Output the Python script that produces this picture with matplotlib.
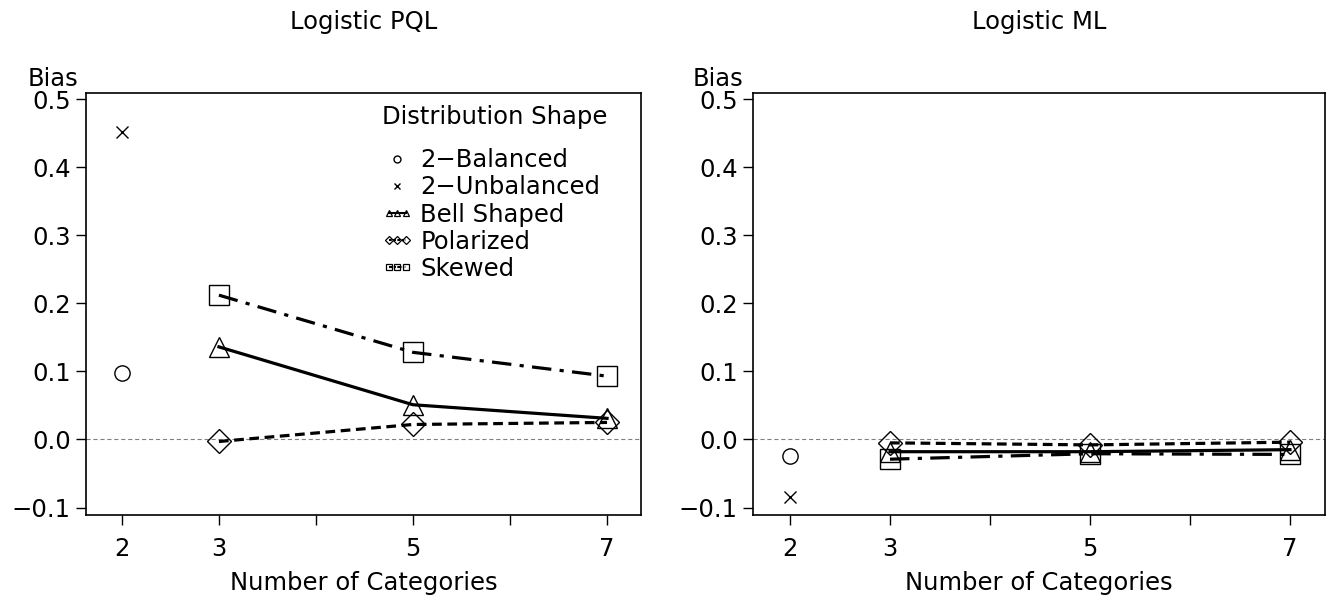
import matplotlib
matplotlib.use("Agg")
import matplotlib.pyplot as plt
from matplotlib.lines import Line2D
from matplotlib.legend_handler import HandlerLine2D

plt.rcParams['font.family'] = ['DejaVu Sans']
plt.rcParams['lines.scale_dashes'] = False

# ---- data ----
categories = [3, 5, 7]
two_cat_x = 2

pql_balanced = 0.097
pql_unbalanced = 0.452
pql_bell = [0.136, 0.051, 0.031]
pql_polarized = [-0.003, 0.022, 0.025]
pql_skewed = [0.212, 0.128, 0.093]

ml_balanced = -0.024
ml_unbalanced = -0.084
ml_bell = [-0.018, -0.018, -0.015]
ml_polarized = [-0.005, -0.008, -0.004]
ml_skewed = [-0.029, -0.021, -0.022]

titles = ["Logistic PQL", "Logistic ML"]
xticks = [2, 3, 4, 5, 6, 7]
xticklabels = ["2", "3", "", "5", "", "7"]
yticks = [-0.1, 0.0, 0.1, 0.2, 0.3, 0.4, 0.5]

panels = [
    (pql_balanced, pql_unbalanced, pql_bell, pql_polarized, pql_skewed),
    (ml_balanced, ml_unbalanced, ml_bell, ml_polarized, ml_skewed),
]

fig = plt.figure(figsize=(13.31, 6.07), dpi=100)
axes_pos = [
    [86 / 1331, 1 - 515 / 607, (641 - 86) / 1331, (515 - 93) / 607],
    [753 / 1331, 1 - 515 / 607, (1325 - 753) / 1331, (515 - 93) / 607],
]

FS = 17.5
lw = 2.3
for i, (pos, data, title) in enumerate(zip(axes_pos, panels, titles)):
    bal, unb, bell, pol, skw = data
    ax = fig.add_axes(pos)
    ax.axhline(0, color='gray', lw=0.8, ls=(0, (3, 2)), zorder=1)
    ax.plot([two_cat_x], [bal], ls='none', marker='o', ms=11, mfc='none',
            mec='black', mew=1.0)
    ax.plot([two_cat_x], [unb], ls='none', marker='x', ms=9, mec='black', mew=1.0)
    ax.plot(categories, bell, color='black', lw=lw, ls='-', marker='^', ms=14,
            mfc='none', mec='black', mew=1.0)
    ax.plot(categories, pol, color='black', lw=lw, ls=(0, (7, 4)), marker='D',
            ms=12, mfc='none', mec='black', mew=1.0)
    ax.plot(categories, skw, color='black', lw=lw, ls=(0, (14, 6, 3, 6)),
            marker='s', ms=14, mfc='none', mec='black', mew=1.0)
    ax.set_xlim(1.63, 7.35)
    ax.set_ylim(-0.111, 0.509)
    ax.set_xticks(xticks)
    ax.set_xticklabels(xticklabels)
    ax.set_yticks(yticks)
    ax.set_yticklabels([f"{v:.1f}".replace('-', '\u2212') for v in yticks])
    ax.tick_params(direction='out', length=7, width=1, labelsize=FS, pad=4)
    ax.tick_params(axis='x', pad=9)
    for sp in ax.spines.values():
        sp.set_linewidth(1.2)
    ax.set_xlabel("Number of Categories", fontsize=FS, labelpad=7)
    ax.set_title(title, fontsize=FS, pad=46)
    ax.text(-0.105, 1.005, "Bias", transform=ax.transAxes, fontsize=FS,
            ha='left', va='bottom')

    if i == 0:
        h_bal = Line2D([], [], ls='none', marker='o', ms=5, mfc='none', mec='black', mew=1.0)
        h_unb = Line2D([], [], ls='none', marker='x', ms=5, mec='black', mew=1.0)
        handles = [
            h_bal,
            h_unb,
            Line2D([], [], color='black', lw=1.5, marker='^', ms=4.5, mfc='none', mec='black', mew=0.9),
            Line2D([], [], color='black', lw=1.5, ls=(0, (2, 1)), marker='D', ms=3.8, mfc='none', mec='black', mew=0.9),
            Line2D([], [], color='black', lw=1.5, ls=(0, (3, 1, 1, 1)), marker='s', ms=4.5, mfc='none', mec='black', mew=0.9),
        ]
        labels = ["2\u2212Balanced", "2\u2212Unbalanced", "Bell Shaped", "Polarized", "Skewed"]
        leg = ax.legend(handles, labels, title="Distribution Shape", loc='upper left',
                        bbox_to_anchor=(0.515, 0.995), frameon=False, fontsize=FS,
                        title_fontsize=FS, numpoints=3, handlelength=1.3,
                        handletextpad=0.3, labelspacing=0.13, borderpad=0.2,
                        borderaxespad=0.2,
                        handler_map={h_bal: HandlerLine2D(numpoints=1),
                                     h_unb: HandlerLine2D(numpoints=1)})
        leg.set_alignment('left')
        leg._legend_box.sep = 14

fig.savefig("out.png", dpi=100)
